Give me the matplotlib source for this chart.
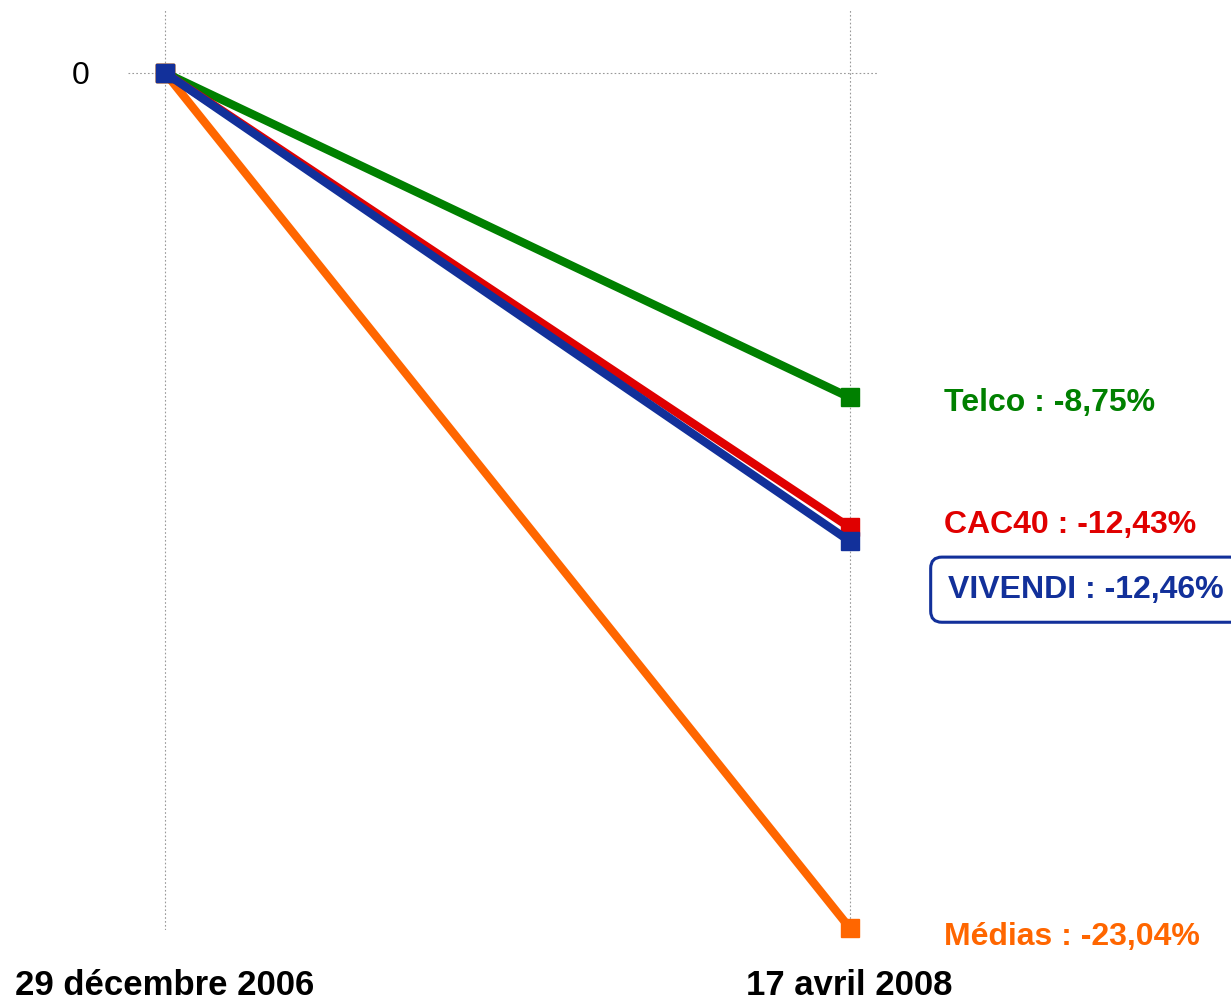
import matplotlib.pyplot as plt

plt.rcParams['font.family'] = ['Liberation Sans Narrow', 'Liberation Sans', 'DejaVu Sans']

# data
dates = ["29 décembre 2006", "17 avril 2008"]
names = ["Médias", "Telco", "CAC40", "VIVENDI"]
start = [0, 0, 0, 0]
# end points as drawn in the picture (CAC40 / VIVENDI are drawn slightly apart)
end = [-23.04, -8.75, -12.25, -12.62]
labels = ["Médias : -23,04%", "Telco : -8,75%", "CAC40 : -12,43%", "VIVENDI : -12,46%"]
colors = ["#FF6600", "#008000", "#E00000", "#12309A"]
# label offsets (points) from the end marker
offsets = [(68, -7), (68, -4), (68, 2), (71, -35)]

fig = plt.figure(figsize=(12.31, 10), dpi=100)
ax = fig.add_axes([0.104, 0.07, 0.609, 0.92])

for name, s, e, lab, c, off in zip(names, start, end, labels, colors, offsets):
    ax.plot([0, 1], [s, e], color=c, lw=6, marker="s", markersize=13,
            solid_capstyle="butt", zorder=3, clip_on=False)
    kw = {}
    if name == "VIVENDI":
        kw["bbox"] = dict(boxstyle="round,pad=0.55,rounding_size=0.35",
                          fc="white", ec=c, lw=2.2)
    ax.annotate(lab, xy=(1, e), xytext=off, textcoords="offset points",
                color=c, fontsize=23, fontweight="bold", va="center",
                ha="left", annotation_clip=False, **kw)

ax.set_xlim(-0.054, 1.041)
ax.set_ylim(-23.1, 1.69)
ax.set_xticks([0, 1])
ax.set_xticklabels(dates, fontsize=25, fontweight="bold")
ax.set_yticks([0])
ax.set_yticklabels(["0"], fontsize=23)
ax.tick_params(axis="x", length=0, pad=28)
ax.tick_params(axis="y", length=0, pad=28)
ax.grid(True, color="#999999", ls=(0, (1.5, 2)), lw=0.8)
for sp in ax.spines.values():
    sp.set_visible(False)

plt.savefig("out.png", dpi=100)
